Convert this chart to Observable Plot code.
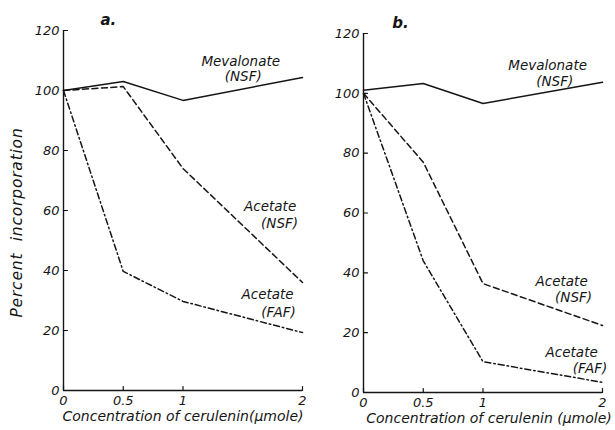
<!DOCTYPE html>
<html><head><meta charset="utf-8">
<script src="https://cdn.jsdelivr.net/npm/d3@7"></script>
<script src="https://cdn.jsdelivr.net/npm/@observablehq/plot@0.6"></script>
<style>
body{margin:0;background:#fff}
#chart{display:flex;width:615px;height:430px}
</style>
</head><body><div id="chart"></div>
<script>
// ---- data ----
const conc = [0, 0.5, 1, 2];
const seriesNames = ["Mevalonate (NSF)", "Acetate (NSF)", "Acetate (FAF)"];

const panelA_mevalonateNSF = [100, 103, 96.7, 104.3];
const panelA_acetateNSF    = [100, 101.3, 74, 36];
const panelA_acetateFAF    = [100, 39.7, 29.7, 19.3];

const panelB_mevalonateNSF = [101, 103.3, 96.6, 103.7];
const panelB_acetateNSF    = [100, 77, 36.4, 22.4];
const panelB_acetateFAF    = [100, 44, 10.3, 3.4];

const yTicks = [0, 20, 40, 60, 80, 100, 120];
const xTicks = [0, 0.5, 1, 2];
const xTickLabels = ["0", "0.5", "1", "2"];
const panelLabels = ["a.", "b."];
const xTitles = ["Concentration of cerulenin(\u00b5mole)", "Concentration of cerulenin (\u00b5mole)"];
const yTitle = "Percent\u00a0 incorporation";

// annotation labels (data units)
const annA_text = ["Mevalonate", "(NSF)", "Acetate", "(NSF)", "Acetate", "(FAF)"];
const annA_x    = [1.483, 1.504, 1.729, 1.808, 1.708, 1.80];
const annA_y    = [109.7, 104.6, 61.2, 55.6, 31.8, 26];
const annB_text = ["Mevalonate", "(NSF)", "Acetate", "(NSF)", "Acetate", "(FAF)"];
const annB_x    = [1.541, 1.60, 1.658, 1.758, 1.742, 1.896];
const annB_y    = [109.3, 104, 37.2, 31.7, 13.2, 8];

// ---- build ----
const dashes = {"Mevalonate (NSF)": null, "Acetate (NSF)": "6,3.5", "Acetate (FAF)": "6,3,1.5,3"};
const ink = "#151515";
const tickShape = {draw(ctx, l) { ctx.moveTo(0, 0); ctx.lineTo(0, -l); }};

function rowsOf(vals) {
  const rows = [];
  seriesNames.forEach((s, si) => conc.forEach((c, i) => rows.push({series: s, conc: c, value: vals[si][i]})));
  return rows;
}

function panel(o) {
  const rows = rowsOf(o.values);
  const marks = [
    Plot.ruleX([0], {y1: 0, y2: 120, stroke: ink, strokeWidth: 1.4}),
    Plot.ruleY([0], {x1: 0, x2: 2, stroke: ink, strokeWidth: 1.4}),
    Plot.vector(yTicks, {x: 0, y: d => d, length: 4, rotate: 90, anchor: "start", shape: tickShape, stroke: ink, strokeWidth: 1.2}),
    Plot.vector(xTicks, {x: d => d, y: 0, length: 4, rotate: 0, anchor: "start", shape: tickShape, stroke: ink, strokeWidth: 1.2}),
    ...seriesNames.map(s => Plot.line(rows.filter(r => r.series === s), {
      x: "conc", y: "value", stroke: ink, strokeWidth: 1.5, strokeDasharray: dashes[s]
    })),
    Plot.text(o.ann.text.map((t, i) => ({t, x: o.ann.x[i], y: o.ann.y[i]})), {
      x: "x", y: "y", text: "t", fontSize: 13.5, fill: ink, textAnchor: "middle"
    }),
    Plot.text([o.label], {x: o.labelX, y: 123.5, text: d => d, fontSize: 15, fontWeight: "bold", fill: ink}),
    Plot.text([o.xTitle], {frameAnchor: "bottom", dy: 30, dx: o.xTitleDx, text: d => d, fontSize: 14, fill: ink})
  ];
  if (o.yTitle) marks.push(Plot.text([o.yTitle], {x: -0.39, y: 56, text: d => d, rotate: -90, fontSize: 15.5, fill: ink}));
  const svg = Plot.plot({
    width: o.width, height: 430,
    marginLeft: o.ml, marginRight: o.mr, marginTop: o.mt, marginBottom: o.mb,
    style: {fontFamily: "DejaVu Sans", fontStyle: "italic", fontSize: "13px", color: ink, background: "#fff", overflow: "visible"},
    x: {domain: [0, 2], ticks: xTicks, tickFormat: d => xTickLabels[xTicks.indexOf(d)], tickSize: 0, tickPadding: 5, label: null},
    y: {domain: [0, 120], ticks: yTicks, tickSize: 0, tickPadding: 4, label: null},
    marks
  });
  if (o.yTitle) {
    d3.select(svg).selectAll("text").filter(function() { return this.textContent === o.yTitle; })
      .style("letter-spacing", "0.8px");
  }
  return svg;
}

const chart = document.getElementById("chart");
chart.append(panel({
  values: [panelA_mevalonateNSF, panelA_acetateNSF, panelA_acetateFAF],
  ann: {text: annA_text, x: annA_x, y: annA_y},
  label: panelLabels[0], labelX: 0.375, xTitle: xTitles[0], xTitleDx: 0, yTitle,
  width: 307, ml: 63, mr: 5, mt: 30, mb: 40
}));
chart.append(panel({
  values: [panelB_mevalonateNSF, panelB_acetateNSF, panelB_acetateFAF],
  ann: {text: annB_text, x: annB_x, y: annB_y},
  label: panelLabels[1], labelX: 0.31, xTitle: xTitles[1], xTitleDx: 6, yTitle: null,
  width: 308, ml: 56, mr: 13, mt: 33, mb: 38
}));
</script>
</body></html>
